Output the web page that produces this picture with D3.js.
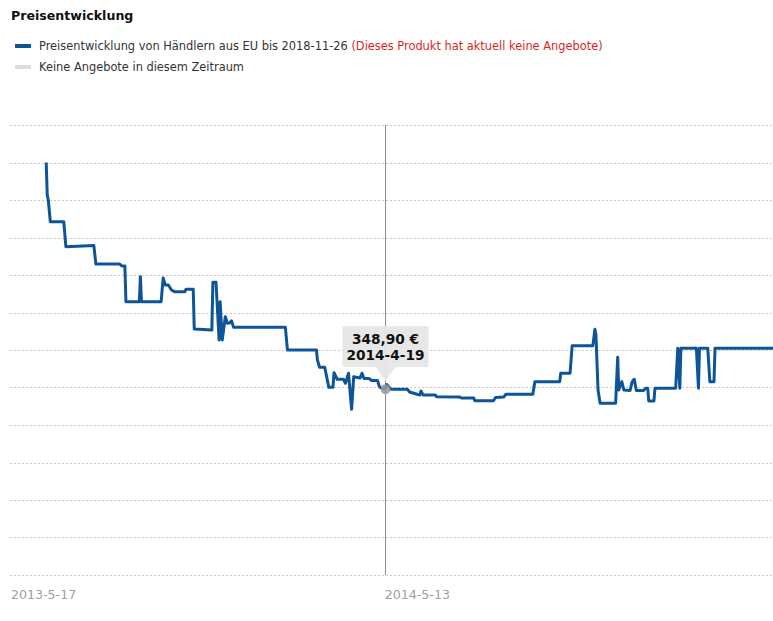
<!DOCTYPE html>
<html>
<head>
<meta charset="utf-8">
<script src="https://cdn.jsdelivr.net/npm/d3@7.9.0/dist/d3.min.js"></script>
<style>
  body { margin: 0; background: #fff; }
  svg { display: block; font-family: "DejaVu Sans", Verdana, sans-serif; }
</style>
</head>
<body>
<svg id="chart" width="773" height="621"></svg>
<script>
// price history (days after 2013-5-17, price in EUR)
const dayOffsets = [
  34, 35, 36, 38, 51, 53, 80, 82, 105, 107, 110, 111, 124, 125, 126, 145, 147, 149, 152, 155,
  158, 168, 169, 176, 177, 194, 195, 198, 201, 202, 204, 207, 209, 211, 213, 215, 265, 267, 295, 296,
  298, 303, 307, 311, 312, 315, 321, 323, 326, 329, 331, 337, 339, 341, 346, 348, 354, 356, 361, 363,
  367, 383, 385, 393, 395, 396, 398, 410, 411, 433, 435, 447, 448, 466, 468, 476, 478, 504, 506, 530,
  531, 540, 542, 562, 564, 565, 567, 569, 584, 586, 587, 590, 592, 598, 600, 602, 604, 611, 613, 615,
  616, 621, 622, 642, 644, 646, 647, 662, 664, 665, 673, 675, 679, 680, 736
];
const prices = [
  500, 478.3, 475, 460.5, 460.5, 443.9, 444.7, 432.3, 432.3, 431, 431, 407.2, 407.2, 423.9, 407.2, 407.2, 423, 418.3, 418.3, 415,
  413.9, 413.9, 415.5, 415.5, 389, 388.3, 420.1, 420.1, 381.7, 407.2, 381.7, 397.2, 392.8, 393, 394.5, 390.1, 390.1, 375, 375, 368.3,
  363.5, 363.5, 350.1, 350.1, 359.9, 355.5, 355.5, 352.8, 359.5, 335.5, 357.2, 356.3, 359.5, 356, 356, 354.7, 354.7, 350.3, 348.9, 352,
  348.8, 348.8, 347, 345.3, 345, 347.7, 345, 345, 343.9, 343.7, 343, 343, 341.2, 341.2, 343.3, 343.7, 345.5, 345.5, 353.9, 353.9,
  359.5, 359.5, 377.9, 377.9, 388.8, 385, 348.3, 339.5, 339.5, 370.1, 348.3, 353.9, 348.3, 348, 353.9, 355.5, 348, 348, 349.5, 349.5,
  341, 341, 349.5, 349.5, 376.1, 349.5, 376.1, 376.1, 349.5, 376.1, 376.1, 353.9, 353.9, 376.1, 376.1
];
const gridValues = [225, 250, 275, 300, 325, 350, 375, 400, 425, 450, 475, 500, 525];
const startDate = new Date(2013, 4, 17);
const tickDates = [new Date(2013, 4, 17), new Date(2014, 4, 13)];
const hoverIndex = 58;
const hoverLabel = '2014-4-19';

const seriesName = 'Preisentwicklung von Händlern aus EU bis 2018-11-26';
const noOfferNote = '(Dieses Produkt hat aktuell keine Angebote)';
const gapName = 'Keine Angebote in diesem Zeitraum';

const blue = '#0d5597';

const data = dayOffsets.map((d, i) => ({ date: d3.timeDay.offset(startDate, d), price: prices[i] }));

const svg = d3.select('#chart');

const x = d3.scaleTime()
  .domain([startDate, d3.timeDay.offset(startDate, 736)])
  .range([11, 773]);
const y = d3.scaleLinear().domain([225, 525]).range([575, 125]);

// title + legend
svg.append('text')
  .attr('x', 11).attr('y', 20)
  .attr('font-size', 12.6).attr('font-weight', 'bold').attr('fill', '#111')
  .text('Preisentwicklung');

const legend = svg.append('g');
legend.append('rect').attr('x', 15).attr('y', 44).attr('width', 16).attr('height', 4).attr('fill', blue);
const l1 = legend.append('text').attr('x', 39).attr('y', 50).attr('font-size', 11.4).attr('fill', '#333');
l1.append('tspan').text(seriesName + ' ');
l1.append('tspan').attr('fill', '#dd1f26').text(noOfferNote);
legend.append('rect').attr('x', 15).attr('y', 65).attr('width', 16).attr('height', 4).attr('fill', '#dcdcdc');
legend.append('text').attr('x', 39).attr('y', 71).attr('font-size', 11.4).attr('fill', '#333').text(gapName);

// grid
svg.append('g')
  .selectAll('line')
  .data(gridValues)
  .join('line')
  .attr('x1', 10).attr('x2', 773)
  .attr('y1', d => Math.round(y(d)) + 0.5).attr('y2', d => Math.round(y(d)) + 0.5)
  .attr('stroke', '#c8c8c8')
  .attr('stroke-dasharray', '2,2');

// x axis labels
svg.append('g')
  .selectAll('text')
  .data(tickDates)
  .join('text')
  .attr('x', d => x(d))
  .attr('y', 599)
  .attr('font-size', 12.6)
  .attr('fill', '#a0a0a0')
  .text(d3.timeFormat('%Y-%-m-%-d'));

// hover crosshair
const hp = data[hoverIndex];
const hx = Math.round(x(hp.date)) + 0.5;
svg.append('line')
  .attr('x1', hx).attr('x2', hx).attr('y1', 125).attr('y2', 575)
  .attr('stroke', '#8c8c8c').attr('stroke-width', 1);

// price line
const line = d3.line().x(d => x(d.date)).y(d => y(d.price));
svg.append('path')
  .datum(data)
  .attr('d', line)
  .attr('fill', 'none')
  .attr('stroke', blue)
  .attr('stroke-width', 3)
  .attr('stroke-linejoin', 'round');

// hover marker + tooltip
const hy = y(hp.price);
svg.append('circle').attr('cx', hx).attr('cy', hy).attr('r', 5).attr('fill', '#999').attr('fill-opacity', 0.85);

const tip = svg.append('g');
tip.append('path')
  .attr('d', `M${hx - 43},326 H${hx + 43} V367 H${hx + 10} L${hx},381 L${hx - 10},367 H${hx - 43} Z`)
  .attr('fill', '#e6e6e6').attr('fill-opacity', 0.95);
const fmtPrice = p => p.toFixed(2).replace('.', ',') + ' €';
tip.append('text').attr('x', hx).attr('y', 344).attr('text-anchor', 'middle')
  .attr('font-size', 13.7).attr('font-weight', 'bold').attr('fill', '#111').text(fmtPrice(hp.price));
tip.append('text').attr('x', hx).attr('y', 360).attr('text-anchor', 'middle')
  .attr('font-size', 13.7).attr('font-weight', 'bold').attr('fill', '#111').text(hoverLabel);
</script>
</body>
</html>
